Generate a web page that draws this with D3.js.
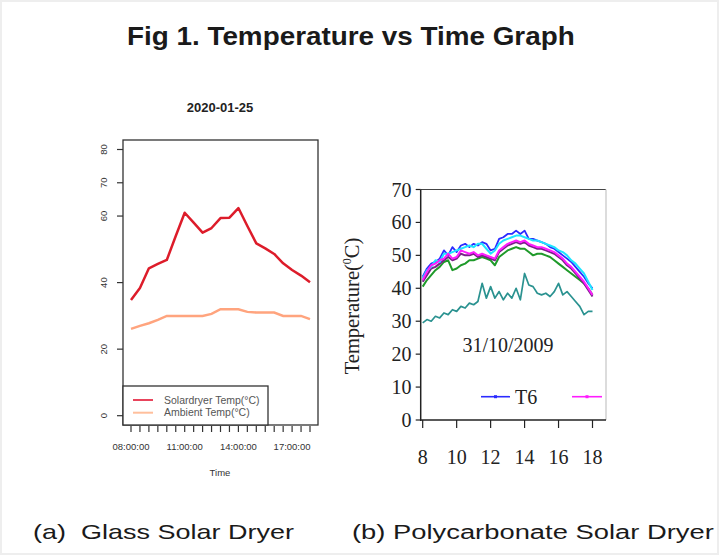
<!DOCTYPE html>
<html>
<head>
<meta charset="utf-8">
<script src="https://cdn.jsdelivr.net/npm/d3@7"></script>
<style>
    html, body { margin: 0; padding: 0; background: #fff; }
    svg { display: block; }
</style>
</head>
<body>
<svg id="fig" width="719" height="555"></svg>
<script>
(function () {
    "use strict";

    /* ---------------- data: (a) glass dryer ---------------- */
    // half-hour readings, hours since midnight
    const glassHours = [8, 8.5, 9, 9.5, 10, 10.5, 11, 11.5, 12, 12.5, 13, 13.5, 14,
        14.5, 15, 15.5, 16, 16.5, 17, 17.5, 18];
    const solarTemp = [34.8, 38.4, 44.3, 45.6, 46.8, 54, 61, 58, 55, 56.4, 59.4, 59.5, 62.4,
        57, 51.8, 50.3, 48.6, 45.8, 43.8, 42.1, 40.1];
    const ambientTemp = [26.1, 27, 27.8, 28.8, 30, 30, 30, 30, 30, 30.6, 32, 32, 32,
        31.2, 31, 31, 31, 30, 30, 30, 29];
    const glassYTicks = [0, 20, 40, 60, 70, 80];
    const glassXTicks = [8, 8.5, 9, 9.5, 10, 10.5, 11, 11.5, 12, 12.5, 13, 13.5, 14,
        14.5, 15, 15.5, 16, 16.5, 17, 17.5, 18];
    const glassXLabels = { 8: "08:00:00", 11: "11:00:00", 14: "14:00:00", 17: "17:00:00" };

    /* ---------------- data: (b) polycarbonate dryer ---------------- */
    const polyHours = [8, 8.25, 8.5, 8.75, 9, 9.25, 9.5, 9.75, 10, 10.25, 10.5, 10.75,
        11, 11.25, 11.5, 11.75, 12, 12.25, 12.5, 12.75, 13, 13.25, 13.5, 13.75,
        14, 14.25, 14.5, 14.75, 15, 15.25, 15.5, 15.75, 16, 16.25, 16.5, 16.75,
        17, 17.25, 17.5, 17.75, 18];
    const tBlue = [43.5, 46, 47.5, 48, 49, 51.5, 50, 52.5, 51, 53, 53.5, 52.5,
        53.5, 53, 54, 53.5, 51.5, 52, 55, 55.5, 56.5, 56.5, 57.5, 56.5,
        57.5, 55, 55, 54.5, 54, 53.5, 52.5, 52, 51, 50, 49, 48,
        46.5, 45, 43.5, 41.5, 40];
    const tCyan = [43, 45.5, 46.5, 48.5, 48, 50.5, 50.5, 51, 51.5, 52, 52.5, 53,
        52.5, 53.5, 53.5, 52, 50.5, 51.5, 53.5, 54.5, 55, 55.5, 56, 56,
        55.5, 55, 54.5, 54.5, 54, 53.5, 53, 52.5, 51.5, 51, 50, 48.5,
        47.5, 46, 44.5, 42, 39.5];
    const tMagenta = [42.5, 45, 47, 47.5, 48.5, 49, 50.5, 49, 49.5, 51.5, 51, 50.5,
        51, 50, 50.5, 50, 49.5, 49, 51.5, 52.5, 53.5, 54, 54.5, 54,
        54.5, 53.5, 53, 52.5, 52.5, 52, 51.5, 51, 50, 49, 47.5, 46.5,
        45, 43.5, 42, 40, 38];
    const tPurple = [42, 44, 46, 46.5, 47.5, 48.5, 49.5, 48.5, 49, 50.5, 50, 50,
        50.5, 49.5, 50, 49.5, 49, 48.5, 51, 52, 53, 53.5, 54, 53.5,
        54, 53, 52.5, 52, 52, 51.5, 51, 50.5, 49.5, 48.5, 47, 46,
        44.5, 43, 41.5, 39.5, 37.5];
    const tGreen = [40.5, 42.5, 44, 45.5, 46.5, 48, 48.5, 45.5, 46, 47, 47.5, 48.5,
        48.5, 49, 49.5, 49, 48.5, 47, 49.5, 50.5, 51.5, 52, 52.5, 52,
        52, 51, 50, 50.5, 50.5, 50, 49.5, 48.5, 47.5, 46.5, 45.5, 44.5,
        43.5, 42.5, 41.5, 40, 38];
    const tAmbient = [29.5, 30.5, 30, 31.5, 31, 32.5, 32, 33.5, 33, 34.5, 34, 35.5,
        35, 36, 41.5, 37, 40.5, 37, 39, 36.5, 38.5, 37, 40, 36.5,
        44.5, 41, 40.5, 38.5, 38, 38.5, 37.5, 39, 41.5, 38, 39, 37.5,
        36, 34.5, 32, 33, 33];
    const polyYTicks = [0, 10, 20, 30, 40, 50, 60, 70];
    const polyXTicks = [8, 10, 12, 14, 16, 18];

    const svg = d3.select("#fig");
    const sans = "'Liberation Sans', Arial, sans-serif";
    const serif = "'Liberation Serif', 'Times New Roman', serif";

    // faint page edge like the scanned figure
    svg.append("rect")
        .attr("x", 0.5).attr("y", 0.5)
        .attr("width", 718).attr("height", 554)
        .attr("fill", "#fff").attr("stroke", "#eeeeee").attr("stroke-width", 3);

    // The scanned figure is stretched sideways: draw the text at its natural
    // size, measure it, then scale x so it spans the same width as the scan.
    function stretchedText(x, y, width, size, weight, str) {
        const t = svg.append("text")
            .attr("font-family", sans).attr("font-weight", weight).attr("font-size", size)
            .attr("fill", "#1a1a1a")
            .style("white-space", "pre")
            .text(str);
        const natural = t.node().getComputedTextLength() || width;
        t.attr("transform", `translate(${x},${y}) scale(${width / natural},1)`);
        return t;
    }

    stretchedText(127, 45, 448, 25, "bold", "Fig 1. Temperature vs Time Graph");
    stretchedText(33, 539, 261, 20, "normal", "(a)  Glass Solar Dryer");
    stretchedText(352, 539, 362, 20, "normal", "(b) Polycarbonate Solar Dryer");

    drawGlass();
    drawPoly();

    /* ---------------- (a) R style plot ---------------- */
    function drawGlass() {
        const box = { left: 123, right: 318, top: 140, bottom: 425 };
        const x = d3.scaleLinear().domain([8, 18]).range([131, 310]);
        const y = d3.scaleLinear().domain([0, 80]).range([415.7, 149.5]);
        const g = svg.append("g");

        g.append("text")
            .attr("x", 220).attr("y", 112)
            .attr("text-anchor", "middle")
            .attr("font-family", sans).attr("font-weight", "bold").attr("font-size", 13)
            .attr("fill", "#222")
            .text("2020-01-25");

        const line = d3.line().x((d) => x(d[0])).y((d) => y(d[1]));

        g.append("path")
            .datum(d3.zip(glassHours, ambientTemp))
            .attr("fill", "none").attr("stroke", "#ffa47e").attr("stroke-width", 2.5)
            .attr("d", line);
        g.append("path")
            .datum(d3.zip(glassHours, solarTemp))
            .attr("fill", "none").attr("stroke", "#dd1c2a").attr("stroke-width", 2.5)
            .attr("stroke-linejoin", "round")
            .attr("d", line);

        g.append("rect")
            .attr("x", box.left).attr("y", box.top)
            .attr("width", box.right - box.left).attr("height", box.bottom - box.top)
            .attr("fill", "none").attr("stroke", "#333").attr("stroke-width", 1.3);

        // y ticks (R rotates labels parallel to axis)
        g.selectAll(".gy").data(glassYTicks).enter().append("line")
            .attr("x1", 117).attr("x2", box.left)
            .attr("y1", (d) => y(d)).attr("y2", (d) => y(d))
            .attr("stroke", "#333").attr("stroke-width", 1.2);
        g.selectAll(".gyl").data(glassYTicks).enter().append("text")
            .attr("transform", (d) => `translate(106.5,${y(d)}) rotate(-90)`)
            .attr("text-anchor", "middle")
            .attr("font-family", sans).attr("font-size", 9.5)
            .attr("fill", "#333")
            .text((d) => d);

        // x ticks every half hour
        g.selectAll(".gx").data(glassXTicks).enter().append("line")
            .attr("x1", (d) => x(d)).attr("x2", (d) => x(d))
            .attr("y1", box.bottom + 1).attr("y2", box.bottom + 7)
            .attr("stroke", "#333").attr("stroke-width", 1.2);
        g.selectAll(".gxl").data(Object.keys(glassXLabels)).enter().append("text")
            .attr("x", (d) => x(+d)).attr("y", 450)
            .attr("text-anchor", "middle")
            .attr("font-family", sans).attr("font-size", 9.5)
            .attr("fill", "#333")
            .text((d) => glassXLabels[d]);

        g.append("text")
            .attr("x", 220).attr("y", 476)
            .attr("text-anchor", "middle")
            .attr("font-family", sans).attr("font-size", 9.5)
            .attr("fill", "#333")
            .text("Time");

        // legend
        const lg = g.append("g");
        lg.append("rect")
            .attr("x", box.left).attr("y", 386)
            .attr("width", 145).attr("height", box.bottom - 386)
            .attr("fill", "#fff").attr("stroke", "#333").attr("stroke-width", 1.3);
        const items = [
            { label: "Solardryer Temp(°C)", color: "#e8445c", yy: 400 },
            { label: "Ambient Temp(°C)", color: "#ffbf9c", yy: 412.7 }
        ];
        items.forEach(function (it) {
            lg.append("line")
                .attr("x1", 133).attr("x2", 153)
                .attr("y1", it.yy).attr("y2", it.yy)
                .attr("stroke", it.color).attr("stroke-width", 2);
            lg.append("text")
                .attr("x", 164).attr("y", it.yy + 3.5)
                .attr("font-family", sans).attr("font-size", 10.5)
                .attr("fill", "#555")
                .text(it.label);
        });
    }

    /* ---------------- (b) Excel style plot ---------------- */
    function drawPoly() {
        const x = d3.scaleLinear().domain([8, 18]).range([422.7, 592.5]);
        const y = d3.scaleLinear().domain([0, 70]).range([420, 189.5]);
        const g = svg.append("g");
        const axisLeft = 420.7;
        const axisRight = 606;

        // frame: dark top line, faint right edge
        g.append("line")
            .attr("x1", axisLeft).attr("x2", axisRight)
            .attr("y1", y(70)).attr("y2", y(70))
            .attr("stroke", "#444").attr("stroke-width", 1);
        g.append("line")
            .attr("x1", axisRight).attr("x2", axisRight)
            .attr("y1", y(70)).attr("y2", y(0))
            .attr("stroke", "#d0d0d0").attr("stroke-width", 1.5);

        const line = d3.line().x((d) => x(d[0])).y((d) => y(d[1]));
        const series = [
            { values: tAmbient, color: "#2a9290", width: 1.7 },
            { values: tGreen, color: "#1f9a2a", width: 2 },
            { values: tPurple, color: "#7a1f8a", width: 2 },
            { values: tBlue, color: "#2b2bff", width: 1.8 },
            { values: tCyan, color: "#1ee6ff", width: 2 },
            { values: tMagenta, color: "#ff1cff", width: 2 }
        ];
        series.forEach(function (s) {
            g.append("path")
                .datum(d3.zip(polyHours, s.values))
                .attr("fill", "none")
                .attr("stroke", s.color).attr("stroke-width", s.width)
                .attr("stroke-linejoin", "round")
                .attr("d", line);
        });

        // axes
        g.append("line")
            .attr("x1", axisLeft).attr("x2", axisLeft)
            .attr("y1", y(70)).attr("y2", y(0) + 1)
            .attr("stroke", "#222").attr("stroke-width", 1.5);
        g.append("line")
            .attr("x1", axisLeft).attr("x2", axisRight)
            .attr("y1", y(0)).attr("y2", y(0))
            .attr("stroke", "#222").attr("stroke-width", 1.5);

        g.selectAll(".py").data(polyYTicks).enter().append("line")
            .attr("x1", axisLeft - 5).attr("x2", axisLeft)
            .attr("y1", (d) => y(d)).attr("y2", (d) => y(d))
            .attr("stroke", "#222").attr("stroke-width", 1.2);
        g.selectAll(".pyl").data(polyYTicks).enter().append("text")
            .attr("x", 411.5).attr("y", (d) => y(d) + 7)
            .attr("text-anchor", "end")
            .attr("font-family", serif).attr("font-size", 20)
            .attr("fill", "#222")
            .text((d) => d);

        g.selectAll(".px").data(polyXTicks).enter().append("line")
            .attr("x1", (d) => x(d)).attr("x2", (d) => x(d))
            .attr("y1", y(0)).attr("y2", y(0) + 8)
            .attr("stroke", "#222").attr("stroke-width", 1.2);
        g.selectAll(".pxl").data(polyXTicks).enter().append("text")
            .attr("x", (d) => x(d)).attr("y", 463.5)
            .attr("text-anchor", "middle")
            .attr("font-family", serif).attr("font-size", 20)
            .attr("fill", "#222")
            .text((d) => d);

        // y title with superscript degree zero
        const yt = g.append("text")
            .attr("transform", "translate(359,306) rotate(-90)")
            .attr("text-anchor", "middle")
            .attr("font-family", serif).attr("font-size", 20.5)
            .attr("fill", "#222");
        yt.append("tspan").text("Temperature(");
        yt.append("tspan").attr("font-size", 12).attr("dy", -8).text("0");
        yt.append("tspan").attr("dy", 8).text("C)");

        g.append("text")
            .attr("x", 508).attr("y", 352)
            .attr("text-anchor", "middle")
            .attr("font-family", serif).attr("font-size", 20)
            .attr("fill", "#222")
            .text("31/10/2009");

        // partial legend row
        const legend = [
            { label: "T6", color: "#2b2bff", x1: 481, x2: 510 },
            { label: "", color: "#ff1cff", x1: 572, x2: 602 }
        ];
        legend.forEach(function (l) {
            g.append("line")
                .attr("x1", l.x1).attr("x2", l.x2)
                .attr("y1", 396.7).attr("y2", 396.7)
                .attr("stroke", l.color).attr("stroke-width", 1.6);
            g.append("rect")
                .attr("x", (l.x1 + l.x2) / 2 - 1.5).attr("y", 395.2)
                .attr("width", 3).attr("height", 3)
                .attr("fill", l.color);
            if (l.label) {
                g.append("text")
                    .attr("x", l.x2 + 5).attr("y", 403.5)
                    .attr("font-family", serif).attr("font-size", 20)
                    .attr("fill", "#222")
                    .text(l.label);
            }
        });
    }
})();
</script>
</body>
</html>
